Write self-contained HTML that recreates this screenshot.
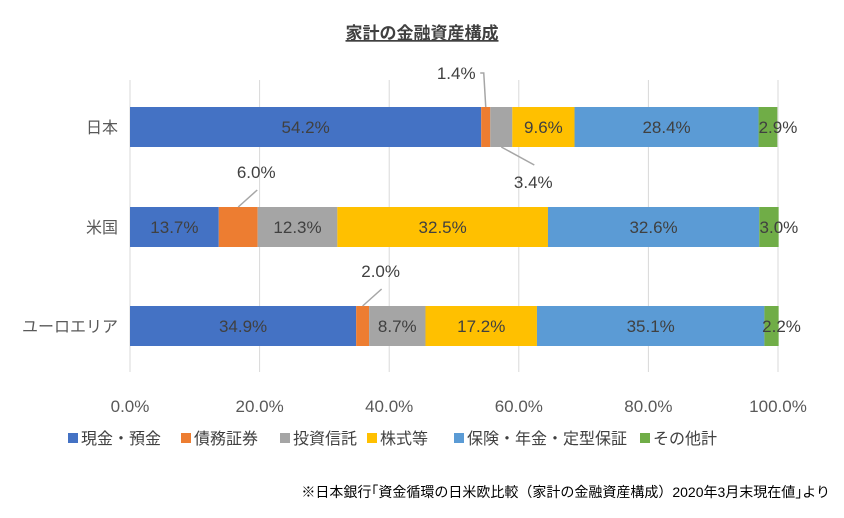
<!DOCTYPE html>
<html><head><meta charset="utf-8"><style>
body{margin:0;background:#fff;font-family:"Liberation Sans","Noto Sans CJK JP",sans-serif;}
svg text{font-family:"Liberation Sans","Noto Sans CJK JP",sans-serif;}
</style></head><body>
<svg id="c" width="844" height="513" xmlns="http://www.w3.org/2000/svg">
<text x="422" y="39" text-anchor="middle" font-size="17" font-weight="bold" fill="#404040" text-decoration="underline">家計の金融資産構成</text>
<g id="grid"></g><g id="bars"></g><g id="labels"></g>
<g id="legend"></g>
<text x="830" y="497" text-anchor="end" font-size="14" fill="#000">※日本銀行｢資金循環の日米欧比較（家計の金融資産構成）2020年3月末現在値｣より</text>
</svg>
<script>
const categories=["日本","米国","ユーロエリア"];
const seriesNames=["現金・預金","債務証券","投資信託","株式等","保険・年金・定型保証","その他計"];
const cash=[54.2,13.7,34.9];
const bonds=[1.4,6.0,2.0];
const funds=[3.4,12.3,8.7];
const stocks=[9.6,32.5,17.2];
const insurance=[28.4,32.6,35.1];
const other=[2.9,3.0,2.2];
const ticks=[0,20,40,60,80,100];
const series=[cash,bonds,funds,stocks,insurance,other];
const colors=["#4472C4","#ED7D31","#A5A5A5","#FFC000","#5B9BD5","#70AD47"];
const NS="http://www.w3.org/2000/svg";
const x0=130,x1=778;
const X=v=>x0+(x1-x0)*v/100;
const rowY=[107,207,306],barH=40;
function el(t,a,p,txt){const e=document.createElementNS(NS,t);for(const k in a)e.setAttribute(k,a[k]);if(txt!==undefined)e.textContent=txt;document.getElementById(p).appendChild(e);return e;}
ticks.forEach(t=>{
 const l=el('line',{x1:X(t),x2:X(t),y1:80,y2:372,stroke:'#d9d9d9','stroke-width':1},'grid');
 
 
 const tx=el('text',{x:X(t),y:412,'text-anchor':'middle','font-size':17,fill:'#595959'},'grid',t.toFixed(1)+'%');
 
 
});
categories.forEach((c,i)=>{
 const cy=rowY[i]+barH/2;
 const ct=el('text',{x:118,y:cy+6,'text-anchor':'end','font-size':16,fill:'#595959'},'labels',c);
 
 
 let acc=0;
 series.forEach((s,j)=>{
  const v=s[i];const xa=X(acc),xb=X(acc+v);
  const r=el('rect',{x:xa,y:rowY[i],width:xb-xa,height:barH,fill:colors[j]},'bars');
  
  
  const mid=(xa+xb)/2;
  let lx=mid,ly=cy+6,line=null;
  if(j===1){
   if(i===0){lx=X(acc)-25;ly=79;line=[[mid,rowY[i]],[mid-2,73],[lx+24,73]];}
   else{lx=mid+18;ly=rowY[i]-29;line=[[mid,rowY[i]],[mid+19,rowY[i]-17]];}
  }
  if(j===2&&i===0){lx=mid+32;ly=188;line=[[mid,rowY[i]+barH],[mid+33,rowY[i]+barH+18]];}
  if(j===5){lx=mid+10;}
  if(line){const p=el('polyline',{points:line.map(q=>q.join(',')).join(' '),fill:'none',stroke:'#a6a6a6','stroke-width':1.5},'labels');
   
   }
  const t=el('text',{x:lx,y:ly,'text-anchor':'middle','font-size':17,fill:'#404040'},'labels',v.toFixed(1)+'%');
  
  
  acc+=v;
 });
});
const lx=[68,181,280,367,454,640];
seriesNames.forEach((n,j)=>{
 const r=el('rect',{x:lx[j],y:433,width:10,height:10,fill:colors[j]},'legend');
 
 
 const t=el('text',{x:lx[j]+13,y:444,'font-size':16,fill:'#404040'},'legend',n);
 
 
});
</script>
</body></html>
